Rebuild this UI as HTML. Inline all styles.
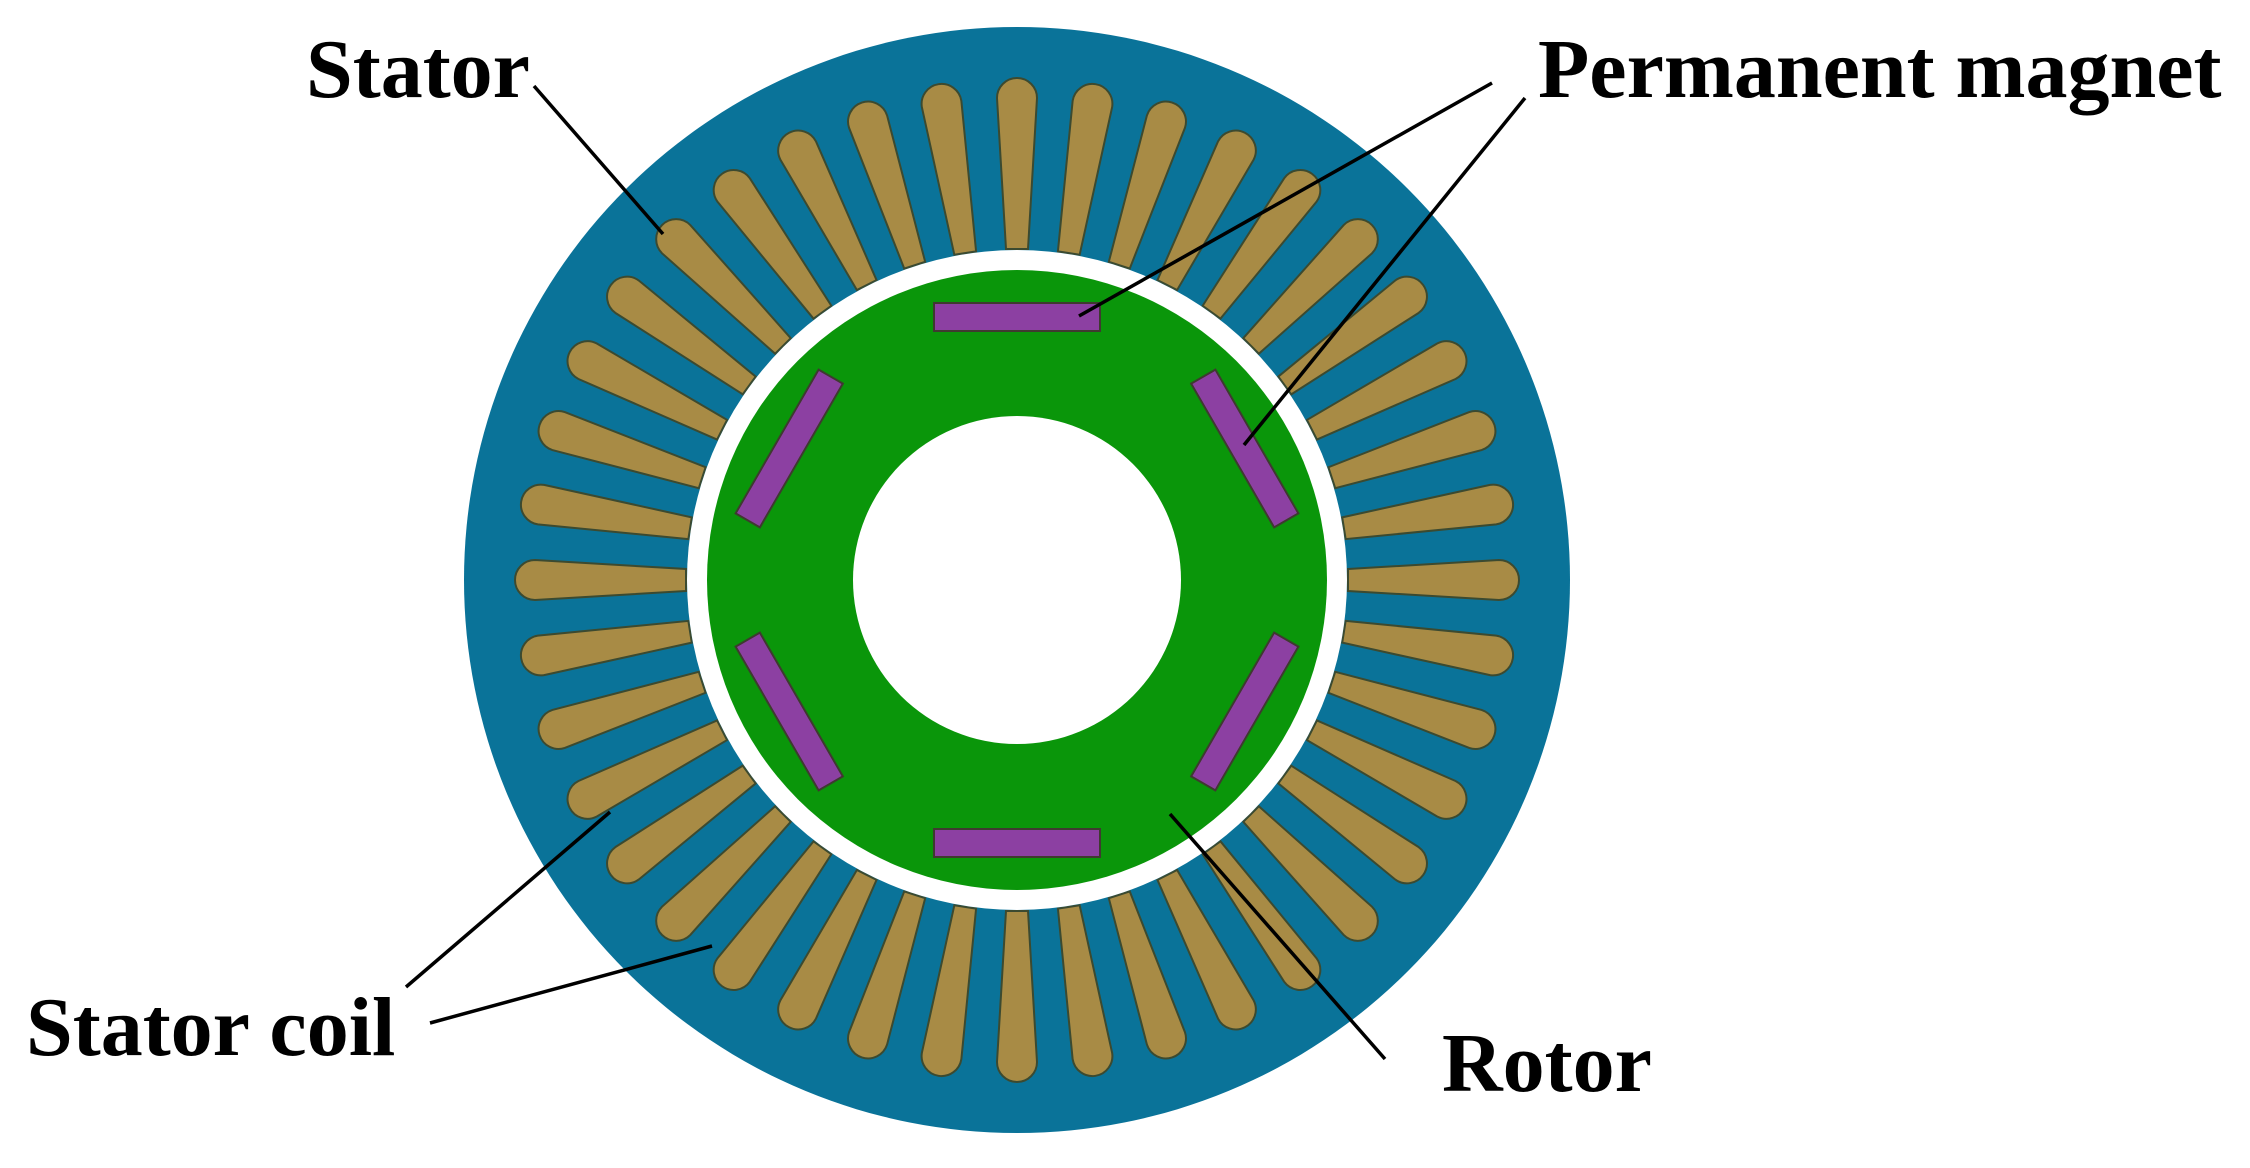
<!DOCTYPE html>
<html><head><meta charset="utf-8"><style>
html,body{margin:0;padding:0;background:#fff;}
svg{display:block;}
text{font-family:"Liberation Serif",serif;font-weight:bold;font-size:84px;fill:#000;}
</style></head><body>
<svg width="2250" height="1168" viewBox="0 0 2250 1168" xmlns="http://www.w3.org/2000/svg">
<defs>
<path id="slot" d="M-11,-331 L-20,-482 A20,20 0 0 1 20,-482 L11,-331 Z" fill="#a88b45" stroke="#3c4a30" stroke-width="2"/>
<rect id="mag" x="-83" y="-277" width="166" height="28" fill="#8c40a2" stroke="#3f3a30" stroke-width="2"/>
</defs>
<circle cx="1017" cy="580" r="553" fill="#0a7399"/>
<g transform="translate(1017,580)">
<use href="#slot" transform="rotate(0)"/><use href="#slot" transform="rotate(9)"/><use href="#slot" transform="rotate(18)"/><use href="#slot" transform="rotate(27)"/>
<use href="#slot" transform="rotate(36)"/><use href="#slot" transform="rotate(45)"/><use href="#slot" transform="rotate(54)"/><use href="#slot" transform="rotate(63)"/>
<use href="#slot" transform="rotate(72)"/><use href="#slot" transform="rotate(81)"/><use href="#slot" transform="rotate(90)"/><use href="#slot" transform="rotate(99)"/>
<use href="#slot" transform="rotate(108)"/><use href="#slot" transform="rotate(117)"/><use href="#slot" transform="rotate(126)"/><use href="#slot" transform="rotate(135)"/>
<use href="#slot" transform="rotate(144)"/><use href="#slot" transform="rotate(153)"/><use href="#slot" transform="rotate(162)"/><use href="#slot" transform="rotate(171)"/>
<use href="#slot" transform="rotate(180)"/><use href="#slot" transform="rotate(189)"/><use href="#slot" transform="rotate(198)"/><use href="#slot" transform="rotate(207)"/>
<use href="#slot" transform="rotate(216)"/><use href="#slot" transform="rotate(225)"/><use href="#slot" transform="rotate(234)"/><use href="#slot" transform="rotate(243)"/>
<use href="#slot" transform="rotate(252)"/><use href="#slot" transform="rotate(261)"/><use href="#slot" transform="rotate(270)"/><use href="#slot" transform="rotate(279)"/>
<use href="#slot" transform="rotate(288)"/><use href="#slot" transform="rotate(297)"/><use href="#slot" transform="rotate(306)"/><use href="#slot" transform="rotate(315)"/>
<use href="#slot" transform="rotate(324)"/><use href="#slot" transform="rotate(333)"/><use href="#slot" transform="rotate(342)"/><use href="#slot" transform="rotate(351)"/>
<circle r="330" fill="#fff"/>
<circle r="310" fill="#0a960a"/>
<circle r="164" fill="#fff"/>
<use href="#mag" transform="rotate(0)"/><use href="#mag" transform="rotate(60)"/><use href="#mag" transform="rotate(120)"/>
<use href="#mag" transform="rotate(180)"/><use href="#mag" transform="rotate(240)"/><use href="#mag" transform="rotate(300)"/>
</g>
<g stroke="#000" stroke-width="3.5" fill="none">
<line x1="534" y1="86" x2="663" y2="234"/>
<line x1="1492" y1="83" x2="1079" y2="316"/>
<line x1="1525" y1="98" x2="1244" y2="445"/>
<line x1="406" y1="987" x2="610" y2="812"/>
<line x1="430" y1="1023" x2="712" y2="946"/>
<line x1="1385" y1="1059" x2="1170" y2="814"/>
</g>
<text x="306" y="97">Stator</text>
<text x="1538" y="97">Permanent magnet</text>
<text x="26" y="1055">Stator coil</text>
<text x="1442" y="1091">Rotor</text>
</svg>
</body></html>
